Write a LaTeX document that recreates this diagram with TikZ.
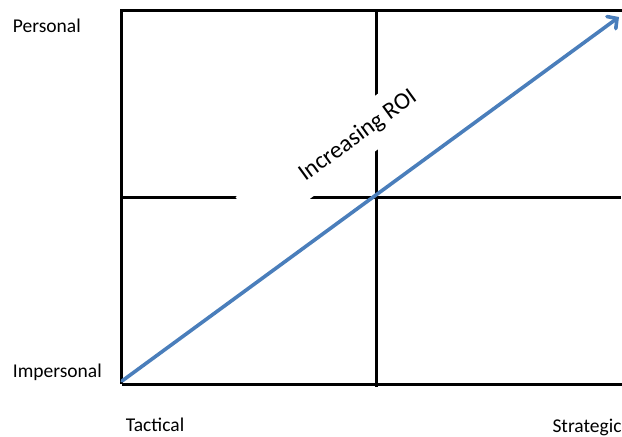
\documentclass[tikz,border=0pt]{standalone}
\usepackage{fontspec}
\setmainfont{Carlito}
\usetikzlibrary{arrows.meta}
\definecolor{roiblue}{HTML}{4A7EBB}
\tikzset{
  gridline/.style={line width=3pt, black},
  axislabel/.style={inner sep=0pt, font=\fontsize{19.5}{23}\selectfont},
  roilabel/.style={rotate=36, fill=white, inner sep=0pt, minimum width=270pt, minimum height=45pt, font=\fontsize{24}{28}\selectfont},
  roiarrow/.style={line width=3.6pt, roiblue, line cap=round, -{Straight Barb[length=7pt,width=15pt,line cap=round]}}
}
\begin{document}
\begin{tikzpicture}[x=1pt,y=-1pt]
\useasboundingbox (0,0) rectangle (622,437);
% grid coordinates
\coordinate (tl) at (121.5,10.5);
\coordinate (tr) at (622,10.5);
\coordinate (bl) at (121.5,384);
\coordinate (br) at (622,384);
\coordinate (ml) at (121.5,197.3);
\coordinate (mr) at (621,197.3);
\coordinate (mt) at (376,10.5);
\coordinate (mb) at (376,386.5);
\draw[gridline] (bl) -- (tl) -- (tr);
\draw[gridline] (bl) -- (br);
\draw[gridline] (ml) -- (mr);
\draw[gridline] (mt) -- (mb);
% label covering the grid lines
\node[roilabel] (roi) at (358,136) {Increasing ROI};
% arrow
\coordinate (as) at (122,381);
\coordinate (ae) at (619,17);
\draw[roiarrow] (as) -- (ae);
% axis labels
\node[axislabel, anchor=base west] (personal) at (12.7,32) {Personal};
\node[axislabel, anchor=base west] (impersonal) at (12.7,377.7) {Impersonal};
\node[axislabel, anchor=base west] (tactical) at (125.7,431.7) {Tactical};
\node[axislabel, anchor=base east] (strategic) at (621.7,432.5) {Strategic};
\end{tikzpicture}
\end{document}
